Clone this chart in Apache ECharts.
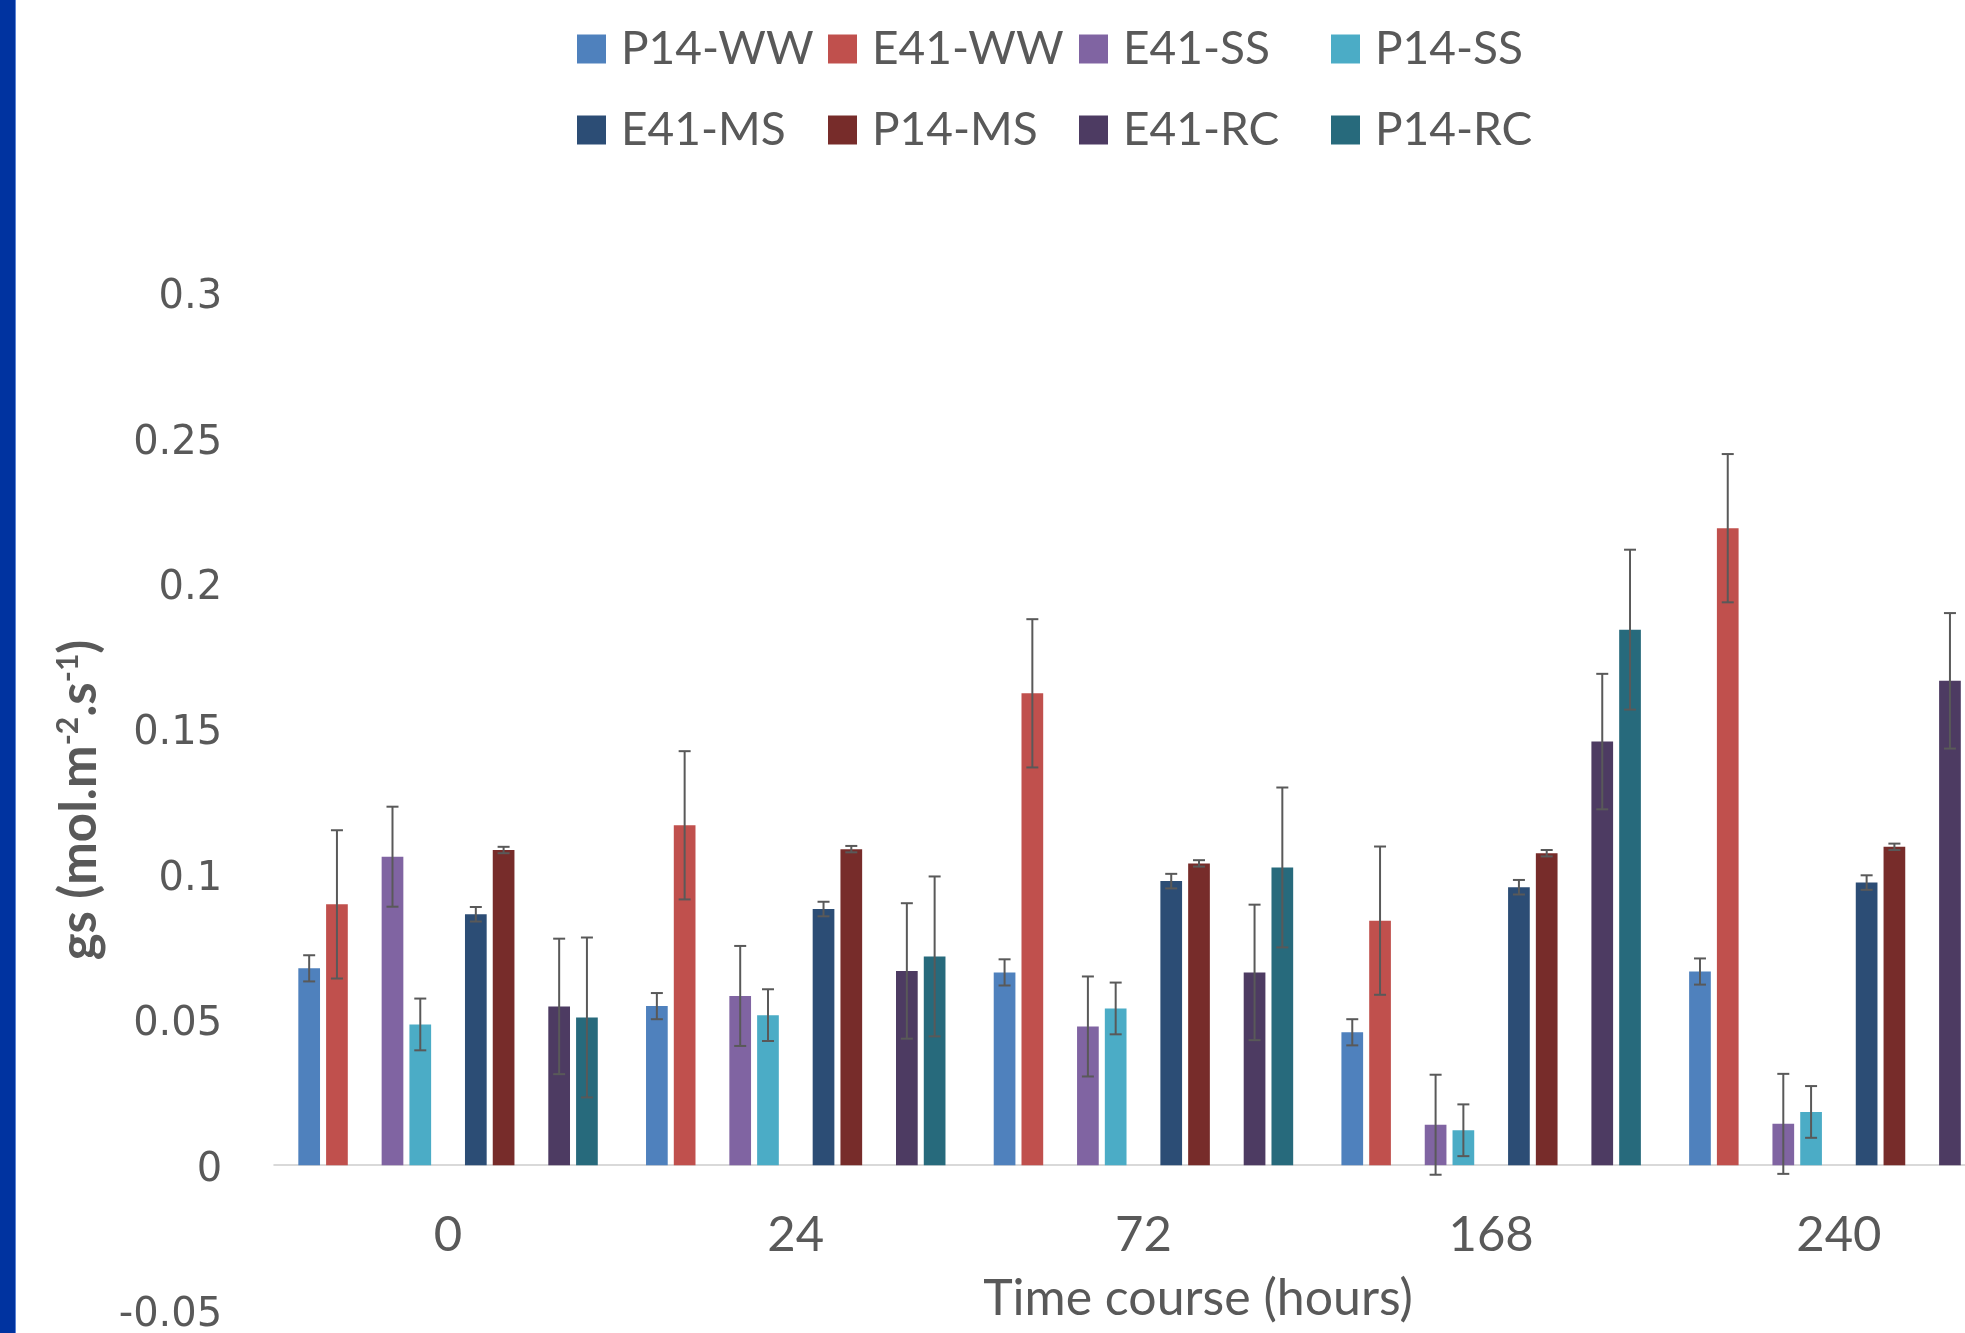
<!DOCTYPE html>
<html>
<head>
<meta charset="utf-8">
<script src="https://cdn.jsdelivr.net/npm/echarts@6/dist/echarts.min.js"></script>
<style>
html,body{margin:0;padding:0;background:#ffffff;}
#chart{width:1965px;height:1333px;}
</style>
</head>
<body>
<div id="chart"></div>
<script>
// ---------- data ----------
const categories = ['0', '24', '72', '168', '240'];

const p14WW = [0.0677, 0.0547, 0.0663, 0.0457, 0.0666];
const e41WW = [0.0897, 0.1169, 0.1623, 0.0841, 0.2191];
const e41SS = [0.1061, 0.0582, 0.0477, 0.0139, 0.0142];
const p14SS = [0.0484, 0.0516, 0.0539, 0.0120, 0.0183];
const e41MS = [0.0863, 0.0881, 0.0977, 0.0956, 0.0972];
const p14MS = [0.1084, 0.1087, 0.1038, 0.1073, 0.1095];
const e41RC = [0.0546, 0.0668, 0.0663, 0.1457, 0.1666];
const p14RC = [0.0508, 0.0718, 0.1024, 0.1842, null];

const errP14WW = [0.0045, 0.0045, 0.0045, 0.0045, 0.0045];
const errE41WW = [0.0255, 0.0255, 0.0255, 0.0255, 0.0255];
const errE41SS = [0.0172, 0.0172, 0.0172, 0.0172, 0.0172];
const errP14SS = [0.0089, 0.0089, 0.0089, 0.0089, 0.0089];
const errE41MS = [0.0025, 0.0025, 0.0025, 0.0025, 0.0025];
const errP14MS = [0.0011, 0.0011, 0.0011, 0.0011, 0.0011];
const errE41RC = [0.0233, 0.0233, 0.0233, 0.0233, 0.0233];
const errP14RC = [0.0275, 0.0275, 0.0275, 0.0275, 0.0275];

const yTicks = { min: -0.05, max: 0.3, interval: 0.05 };

// ---------- styling ----------
const TEXT = '#595959';
const BAR_W = 21.7;
const BAR_GAP = 0.28;

// slot layout (Excel chart had empty gaps between pairs)
const slots = [
  { name: 'P14-WW', data: p14WW, err: errP14WW, color: '#4F81BD' },
  { name: 'E41-WW', data: e41WW, err: errE41WW, color: '#C0504D' },
  null,
  { name: 'E41-SS', data: e41SS, err: errE41SS, color: '#8064A2' },
  { name: 'P14-SS', data: p14SS, err: errP14SS, color: '#4BACC6' },
  null,
  { name: 'E41-MS', data: e41MS, err: errE41MS, color: '#2C4D75' },
  { name: 'P14-MS', data: p14MS, err: errP14MS, color: '#772C2A' },
  null,
  { name: 'E41-RC', data: e41RC, err: errE41RC, color: '#4D3B62' },
  { name: 'P14-RC', data: p14RC, err: errP14RC, color: '#276A7C' }
];
const nSlots = slots.length;

const series = [];
const errData = [];
slots.forEach(function (s, k) {
  if (s) {
    series.push({
      type: 'bar', name: s.name, data: s.data,
      barWidth: BAR_W, barGap: (BAR_GAP * 100) + '%',
      itemStyle: { color: s.color },
      emphasis: { disabled: true }
    });
    s.data.forEach(function (v, ci) {
      if (v == null) return;
      errData.push([ci, v - s.err[ci], v + s.err[ci], k]);
    });
  } else {
    series.push({
      type: 'bar', name: 'gap' + k, data: categories.map(function () { return null; }),
      barWidth: BAR_W, barGap: (BAR_GAP * 100) + '%'
    });
  }
});

series.push({
  type: 'custom', name: 'errors', silent: true, z: 10,
  encode: { x: 0, y: [1, 2] },
  data: errData,
  renderItem: function (params, api) {
    const ci = api.value(0), lo = api.value(1), hi = api.value(2), k = api.value(3);
    const step = BAR_W * (1 + BAR_GAP);
    const cx = api.coord([ci, 0])[0] + (k - (nSlots - 1) / 2) * step;
    const yLo = api.coord([ci, lo])[1];
    const yHi = api.coord([ci, hi])[1];
    const cap = 6;
    const st = { stroke: '#595959', lineWidth: 2 };
    return {
      type: 'group',
      children: [
        { type: 'line', shape: { x1: cx, y1: yHi, x2: cx, y2: yLo }, style: st },
        { type: 'line', shape: { x1: cx - cap, y1: yHi, x2: cx + cap, y2: yHi }, style: st },
        { type: 'line', shape: { x1: cx - cap, y1: yLo, x2: cx + cap, y2: yLo }, style: st }
      ]
    };
  }
});

// legends: 2 rows x 4 columns
const legendOrder = ['P14-WW', 'E41-WW', 'E41-SS', 'P14-SS', 'E41-MS', 'P14-MS', 'E41-RC', 'P14-RC'];
const legendCols = [577, 828, 1079, 1331];
const legendRows = [26, 107];
const legends = legendOrder.map(function (n, i) {
  return {
    data: [n],
    left: legendCols[i % 4],
    top: legendRows[Math.floor(i / 4)],
    icon: 'rect', itemWidth: 29, itemHeight: 29, padding: 0,
    selectedMode: false,
    textStyle: { fontFamily: 'Lato', fontSize: 46, color: TEXT, lineHeight: 46, padding: [0, 0, 0, 10] }
  };
});

const chart = echarts.init(document.getElementById('chart'), null, { renderer: 'canvas' });
chart.setOption({
  backgroundColor: '#ffffff',
  animation: false,
  legend: legends,
  grid: { left: 274.2, top: 293, width: 1738.5, height: 1017.5, containLabel: false, outerBoundsMode: 'none' },
  xAxis: [
    {
      type: 'category', data: categories,
      axisTick: { show: false },
      axisLine: { show: true, onZero: true, lineStyle: { color: '#D9D9D9', width: 2 } },
      axisLabel: { show: false },
      splitLine: { show: false }
    },
    {
      type: 'category', data: categories, position: 'bottom',
      offset: -145.5,
      axisTick: { show: false },
      axisLine: { show: false, onZero: false },
      axisLabel: { show: true, margin: 46, fontFamily: 'Lato', fontSize: 49, color: TEXT },
      splitLine: { show: false }
    }
  ],
  yAxis: {
    type: 'value', min: yTicks.min, max: yTicks.max, interval: yTicks.interval,
    axisLine: { show: false }, axisTick: { show: false }, splitLine: { show: false },
    axisLabel: { margin: 52, fontFamily: 'DejaVu Sans', fontSize: 40, color: TEXT, verticalAlign: 'top', lineHeight: 10 }
  },
  graphic: [
    { type: 'rect', left: 0, top: 0, z: 100, shape: { width: 15, height: 1333 }, style: { fill: '#0033A0' } },
    { type: 'rect', left: 15, top: 0, z: 100, shape: { width: 1, height: 1333 }, style: { fill: '#5B84D6' } },
    {
      type: 'text', x: 1198, y: 1299, z: 100,
      style: { text: 'Time course (hours)', fontFamily: 'Lato', fontSize: 50, fill: TEXT, align: 'center', verticalAlign: 'middle' }
    },
    {
      type: 'text', x: 80, y: 800, rotation: Math.PI / 2, z: 100,
      style: {
        text: '{b|gs (mol.m}{s|-2}{b|.s}{s|-1}{b|)}',
        align: 'center', verticalAlign: 'middle', fill: TEXT,
        rich: {
          b: { fontFamily: 'Lato', fontWeight: 'bold', fontSize: 51, lineHeight: 54, fill: TEXT },
          s: { fontFamily: 'Lato', fontWeight: 'bold', fontSize: 30, lineHeight: 32, fill: TEXT, verticalAlign: 'top' }
        }
      }
    }
  ],
  series: series
});
</script>
</body>
</html>
